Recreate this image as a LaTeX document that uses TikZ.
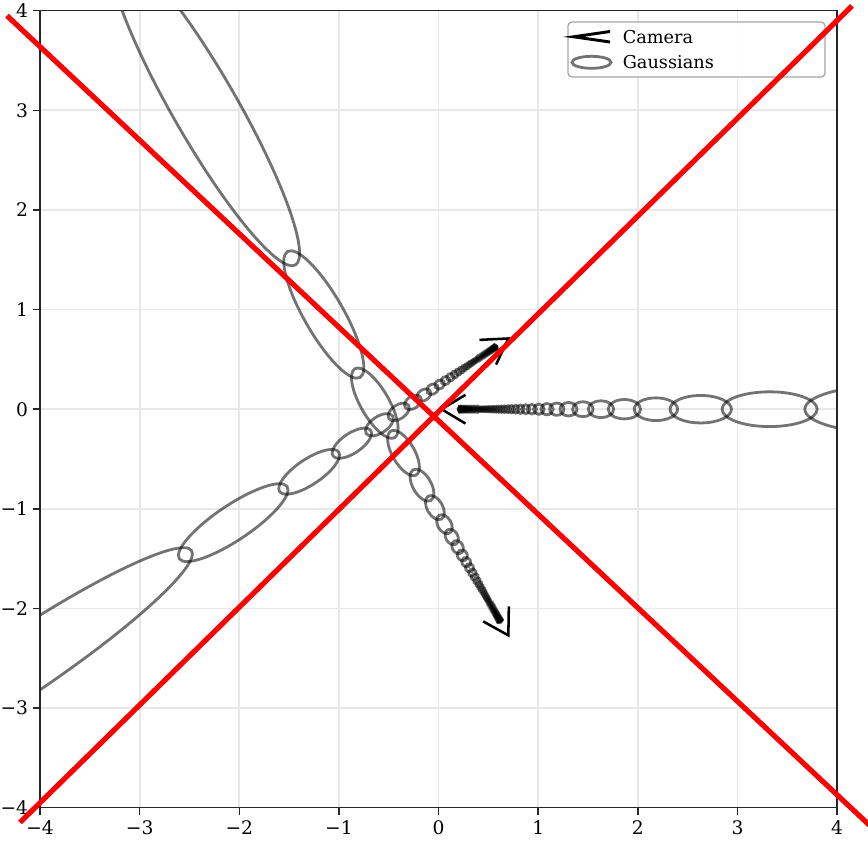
\documentclass[tikz,border=0pt]{standalone}
\usepackage{fontspec}
\setmainfont{DejaVu Serif}
\begin{document}
\begin{tikzpicture}[x=0.75pt,y=-0.75pt,
  gridline/.style={draw=black!9, line width=1.3pt},
  frameline/.style={draw=black!85, line width=1.1pt},
  tickline/.style={draw=black!85, line width=1.1pt},
  ticklabel/.style={inner sep=0pt, font=\fontsize{14pt}{17pt}\selectfont},
  legtext/.style={inner sep=0pt, anchor=west, font=\fontsize{13.3pt}{16pt}\selectfont},
  gauss/.style={draw=black, draw opacity=0.55, line width=2.1pt},
  camline/.style={draw=black, line width=1.9pt, line join=miter},
  redline/.style={draw=red, line width=3.9pt},
  legendbox/.style={draw=black!35, fill=white, fill opacity=0.85, rounded corners=3pt, line width=1pt},
]
\useasboundingbox (0,0) rectangle (868,850);
\begin{scope}[shift={(438.6,409.2)}, x=74.72pt, y=74.72pt]
  \foreach \k in {-3,...,3} {
    \draw[gridline] (\k,-4) -- (\k,4);
    \draw[gridline] (-4,\k) -- (4,\k);
  }
  \coordinate (camA) at (0.03,0);
  \coordinate (camB) at (0.70,0.71);
  \coordinate (camC) at (0.70,-2.27);
  \begin{scope}
    \clip (-4,-4) rectangle (4,4);
    \foreach \px/\py/\th/\cc/\ss/\ff/\nn in {0.03/0/0/0.269/0.0797/0.1893/70, 0.70/0.71/213.8/0.255/0.112/0.125/60, 0.70/-2.27/119.9/0.228/0.1004/0.1276/61} {
      \foreach \j in {-1,...,\nn} {
        \pgfmathsetmacro{\dA}{(\j<0) ? 1/\ff : 1/(\cc+\ss*(\j))}
        \pgfmathsetmacro{\dB}{1/(\cc+\ss*(\j+1))}
        \pgfmathsetmacro{\dm}{(\dA+\dB)/2}
        \pgfmathsetmacro{\rb}{0.053*\dm}
        \pgfmathsetmacro{\ra}{0.5*(\dA-\dB)+0.3*\rb}
        \pgfmathsetmacro{\cx}{\px+\dm*cos(\th)}
        \pgfmathsetmacro{\cy}{\py+\dm*sin(\th)}
        \draw[gauss] (\cx,\cy) ellipse [x radius=\ra, y radius=\rb, rotate=\th];
      }
    }
  \end{scope}
  \draw[camline] (camA) ++(31:0.28) -- (camA) -- ++(-31:0.28);
  \draw[camline] (camB) ++(244.8:0.29) -- (camB) -- ++(182.8:0.29);
  \draw[camline] (camC) ++(151:0.29) -- (camC) -- ++(89:0.29);
  \draw[frameline] (-4,-4) rectangle (4,4);
  \foreach \k/\lab in {-4/−4,-3/−3,-2/−2,-1/−1,0/0,1/1,2/2,3/3,4/4} {
    \draw[tickline] (\k,-4) -- (\k,-4.07);
    \draw[tickline] (-4,\k) -- (-4.07,\k);
    \node[ticklabel, anchor=north] (xt\k) at (\k,-4.13) {\lab};
    \node[ticklabel, anchor=east] (yt\k) at (-4.118,\k) {\lab};
  }
\end{scope}
\draw[legendbox] (568,22) rectangle (825,77);
\draw[camline, line width=2.2pt] (610,31.5) -- (573.5,36.8) -- (610,42);
\draw[gauss] (591.5,62.3) ellipse [x radius=19.5, y radius=6];
\node[legtext] (lcam) at (622.5,36.8) {Camera};
\node[legtext] (lgau) at (622.5,61.8) {Gaussians};
\coordinate (r1a) at (7,15.7);
\coordinate (r1b) at (880,835.1);
\coordinate (r2a) at (20,822.4);
\coordinate (r2b) at (852,5.9);
\draw[redline] (r1a) -- (r1b);
\draw[redline] (r2a) -- (r2b);
\end{tikzpicture}
\end{document}
